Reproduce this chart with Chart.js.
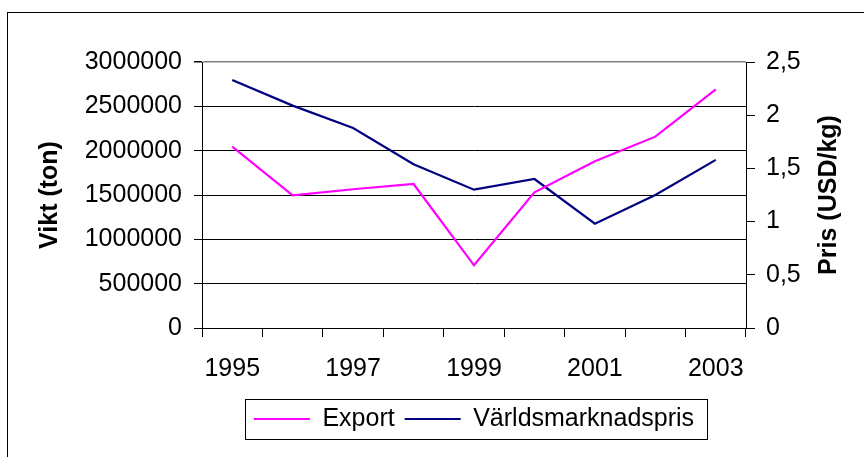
<!DOCTYPE html>
<html lang="sv">
<head>
    <meta charset="UTF-8">
    <title>Export och världsmarknadspris</title>
    <script src="https://cdn.jsdelivr.net/npm/chart.js"></script>
    <style>
        body { margin: 0; background: #fff; }
        #wrap { width: 864px; height: 457px; }
    </style>
</head>
<body>
<div id="wrap"><canvas id="myChart" width="864" height="457"></canvas></div>

<script>
    // Data lästa ur diagrammet
    var years = ['1995', '1996', '1997', '1998', '1999', '2000', '2001', '2002', '2003'];
    var exportTon = [2045000, 1497000, 1565000, 1624000, 707000, 1530000, 1880000, 2158000, 2692000];
    var worldPrice = [2.33, 2.09, 1.88, 1.54, 1.30, 1.40, 0.98, 1.25, 1.58];

    var leftTicks = [0, 500000, 1000000, 1500000, 2000000, 2500000, 3000000];
    var rightTicks = [0, 0.5, 1, 1.5, 2, 2.5];

    var fontFamily = "'Liberation Sans', Arial, sans-serif";

    // Ram runt diagrammet, legendruta och högra axeltiteln
    var decorations = {
        id: 'decorations',
        beforeDraw: function (chart) {
            var c = chart.ctx;
            c.save();
            c.strokeStyle = '#000';
            c.lineWidth = 1;
            c.strokeRect(7.5, 12.5, 900, 500);
            c.restore();
        },
        afterDraw: function (chart) {
            var c = chart.ctx;
            var boxes = chart.legend.legendHitBoxes;
            if (boxes && boxes.length) {
                var first = boxes[0];
                var last = boxes[boxes.length - 1];
                var x0 = Math.round(first.left - 9) + 0.5;
                var x1 = Math.round(last.left + last.width + 13) + 0.5;
                var y0 = Math.round(first.top - 8) + 0.5;
                var y1 = Math.round(first.top + first.height + 7) + 0.5;
                c.save();
                c.strokeStyle = '#000';
                c.lineWidth = 1;
                c.strokeRect(x0, y0, x1 - x0, y1 - y0);
                c.restore();
            }
            c.save();
            c.translate(829, 195);
            c.rotate(-Math.PI / 2);
            c.font = 'bold 25px ' + fontFamily;
            c.fillStyle = '#000';
            c.textAlign = 'center';
            c.textBaseline = 'middle';
            c.fillText('Pris (USD/kg)', 0, 0);
            c.restore();
        }
    };

    var ctx = document.getElementById('myChart').getContext('2d');

    var myChart = new Chart(ctx, {
        type: 'line',
        data: {
            labels: years,
            datasets: [{
                label: 'Export',
                data: exportTon,
                yAxisID: 'y',
                borderColor: '#FF00FF',
                backgroundColor: '#FF00FF',
                borderWidth: 2.2,
                pointRadius: 0,
                tension: 0,
                fill: false
            }, {
                label: 'Världsmarknadspris',
                data: worldPrice,
                yAxisID: 'y1',
                borderColor: '#000080',
                backgroundColor: '#000080',
                borderWidth: 2.2,
                pointRadius: 0,
                tension: 0,
                fill: false
            }]
        },
        options: {
            responsive: false,
            animation: false,
            layout: {
                padding: { top: 62, left: 0, right: 0, bottom: 15.5 }
            },
            plugins: {
                tooltip: { enabled: false },
                legend: {
                    position: 'bottom',
                    fullSize: false,
                    labels: {
                        usePointStyle: true,
                        pointStyle: 'line',
                        pointStyleWidth: 56,
                        padding: 10,
                        color: '#000',
                        font: { family: fontFamily, size: 25 }
                    }
                }
            },
            scales: {
                x: {
                    offset: true,
                    afterFit: function (scale) { scale.height = 68.5; },
                    grid: {
                        offset: true,
                        drawOnChartArea: false,
                        tickLength: 9,
                        color: '#000'
                    },
                    border: { color: '#000', width: 1 },
                    ticks: {
                        autoSkip: false,
                        maxRotation: 0,
                        padding: 17,
                        color: '#000',
                        font: { family: fontFamily, size: 25 },
                        callback: function (value, index) {
                            return index % 2 === 0 ? years[index] : '';
                        }
                    }
                },
                y: {
                    position: 'left',
                    min: 0,
                    max: 3000000,
                    afterFit: function (scale) { scale.width = 202; },
                    afterBuildTicks: function (scale) {
                        scale.ticks = leftTicks.map(function (v) { return { value: v }; });
                    },
                    grid: {
                        tickLength: 8,
                        color: function (c) {
                            return c.tick && c.tick.value === 3000000 ? '#808080' : '#000';
                        },
                        lineWidth: function (c) {
                            return c.tick && c.tick.value === 3000000 ? 1.5 : 1;
                        },
                        tickColor: '#000'
                    },
                    border: { color: '#000', width: 1 },
                    ticks: {
                        padding: 12,
                        color: '#000',
                        font: { family: fontFamily, size: 25 },
                        callback: function (value) { return String(value); }
                    },
                    title: {
                        display: true,
                        text: 'Vikt (ton)',
                        color: '#000',
                        padding: { top: 35, bottom: 0 },
                        font: { family: fontFamily, size: 25, weight: 'bold' }
                    }
                },
                y1: {
                    position: 'right',
                    min: 0,
                    max: 2.5,
                    afterFit: function (scale) { scale.width = 118; },
                    afterBuildTicks: function (scale) {
                        scale.ticks = rightTicks.map(function (v) { return { value: v }; });
                    },
                    grid: {
                        drawOnChartArea: false,
                        tickLength: 9,
                        color: '#000'
                    },
                    border: { color: '#000', width: 1 },
                    ticks: {
                        padding: 11,
                        color: '#000',
                        font: { family: fontFamily, size: 25 },
                        callback: function (value) { return String(value).replace('.', ','); }
                    }
                }
            }
        },
        plugins: [decorations]
    });
</script>
</body>
</html>
